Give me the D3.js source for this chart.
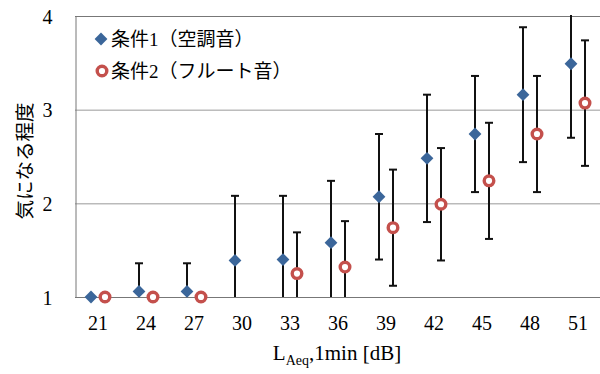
<!DOCTYPE html>
<meta charset="utf-8">
<script src="https://d3js.org/d3.v7.min.js"></script>
<style>
body{margin:0;background:#fff;}
text{font-family:"Liberation Serif","Noto Sans CJK JP",serif;fill:#000;}
</style>
<div id="chart"></div>
<script>
  // data
  var levels = [21, 24, 27, 30, 33, 36, 39, 42, 45, 48, 51];
  var cond1 = [1.00, 1.06, 1.06, 1.39, 1.40, 1.58, 2.07, 2.48, 2.74, 3.16, 3.49];
  var err1  = [0, 0.30, 0.30, 0.69, 0.68, 0.66, 0.67, 0.68, 0.62, 0.72, 0.79];
  var cond2 = [1.00, 1.00, 1.00, null, 1.25, 1.32, 1.74, 1.99, 2.24, 2.74, 3.07];
  var err2  = [0, 0, 0, null, 0.44, 0.49, 0.62, 0.60, 0.62, 0.62, 0.67];
  var yTicks = [1, 2, 3, 4];
  var names = ["条件1（空調音）", "条件2（フルート音）"];

  var W = 600, H = 374;
  var pLeft = 75, pTop = 16, pBottom = 297, pRight = 602;

  var svg = d3.select("#chart").append("svg")
    .attr("width", W).attr("height", H);

  var x = d3.scaleBand().domain(levels).range([pLeft - 1, pRight]).padding(0);
  var y = d3.scaleLinear().domain([1, 4]).range([pBottom, pTop]);

  svg.append("clipPath").attr("id", "plot")
    .append("rect").attr("x", pLeft).attr("y", pTop - 1)
    .attr("width", W - pLeft).attr("height", pBottom - pTop + 1);

  // gridlines
  svg.append("g").selectAll("line")
    .data(yTicks.slice(1))
    .enter().append("line")
      .attr("x1", pLeft).attr("x2", W)
      .attr("y1", function(d){return y(d) + 0.5;})
      .attr("y2", function(d){return y(d) + 0.5;})
      .style("stroke", function(d){return d == 4 ? "#777" : "#999";})
      .style("stroke-width", 1);

  // axes
  var yAxis = svg.append("g")
    .attr("transform", "translate(" + (pLeft + 0.5) + ",0)")
    .call(d3.axisLeft(y).tickValues(yTicks).tickSize(0).tickPadding(23).tickFormat(d3.format("d")));
  yAxis.select(".domain").style("stroke", "#777");
  yAxis.selectAll("text").style("font-size", "20px").attr("dy", "0.35em");

  var xAxis = svg.append("g")
    .attr("transform", "translate(0," + (pBottom + 0.5) + ")")
    .call(d3.axisBottom(x).tickSize(0).tickPadding(18));
  xAxis.select(".domain").attr("d", "M" + pLeft + ",0H" + W).style("stroke", "#777");
  xAxis.selectAll("text").style("font-size", "20px");

  // error bars
  function bars(vals, errs, dx) {
    var g = svg.append("g").attr("clip-path", "url(#plot)");
    var pts = levels.map(function(l, i){return {l: l, v: vals[i], e: errs[i]};})
      .filter(function(d){return d.v != null && d.e > 0;});
    var cx = function(d){return x(d.l) + x.bandwidth() / 2 + dx;};
    g.selectAll(".stem").data(pts).enter().append("line")
      .attr("x1", cx).attr("x2", cx)
      .attr("y1", function(d){return y(d.v + d.e);})
      .attr("y2", function(d){return y(d.v - d.e);})
      .style("stroke", "#111").style("stroke-width", 2);
    [1, -1].forEach(function(s){
      g.selectAll(".cap").data(pts).enter().append("line")
        .attr("x1", function(d){return cx(d) - 4;})
        .attr("x2", function(d){return cx(d) + 4;})
        .attr("y1", function(d){return y(d.v + s * d.e);})
        .attr("y2", function(d){return y(d.v + s * d.e);})
        .style("stroke", "#111").style("stroke-width", 2);
    });
  }
  bars(cond1, err1, -7);
  bars(cond2, err2, 7);

  var diamond = d3.symbol().type(d3.symbolSquare).size(82);

  // condition 1 points
  svg.append("g").selectAll("path")
    .data(levels.map(function(l, i){return {l: l, v: cond1[i]};}))
    .enter().append("path")
      .attr("d", diamond)
      .attr("transform", function(d){return "translate(" + (x(d.l) + x.bandwidth() / 2 - 7) + "," + y(d.v) + ") rotate(45)";})
      .style("fill", "#3B669A");

  // condition 2 points
  svg.append("g").selectAll("circle")
    .data(levels.map(function(l, i){return {l: l, v: cond2[i]};}).filter(function(d){return d.v != null;}))
    .enter().append("circle")
      .attr("cx", function(d){return x(d.l) + x.bandwidth() / 2 + 7;})
      .attr("cy", function(d){return y(d.v);})
      .attr("r", 4.8)
      .style("fill", "#fff").style("stroke", "#C4504C").style("stroke-width", 3.4);

  // legend
  svg.append("path").attr("d", diamond).attr("transform", "translate(101,39) rotate(45)").style("fill", "#3B669A");
  svg.append("circle").attr("cx", 102).attr("cy", 71).attr("r", 4.8)
    .style("fill", "#fff").style("stroke", "#C4504C").style("stroke-width", 3.4);
  svg.selectAll(".leg").data(names).enter().append("text")
    .attr("x", 111).attr("y", function(d, i){return 39 + i * 32;})
    .attr("dy", "0.35em")
    .style("font-size", "19px")
    .text(function(d){return d;});

  // axis titles
  svg.append("text")
    .attr("transform", "translate(25,161) rotate(-90)")
    .attr("text-anchor", "middle").attr("dy", "0.35em")
    .style("font-size", "19.5px")
    .text("気になる程度");

  var xt = svg.append("text")
    .attr("x", 337).attr("y", 360)
    .attr("text-anchor", "middle")
    .style("font-size", "21px");
  xt.append("tspan").text("L");
  xt.append("tspan").attr("dy", 5).style("font-size", "14px").text("Aeq");
  xt.append("tspan").attr("dy", -5).text(",1min [dB]");
</script>
